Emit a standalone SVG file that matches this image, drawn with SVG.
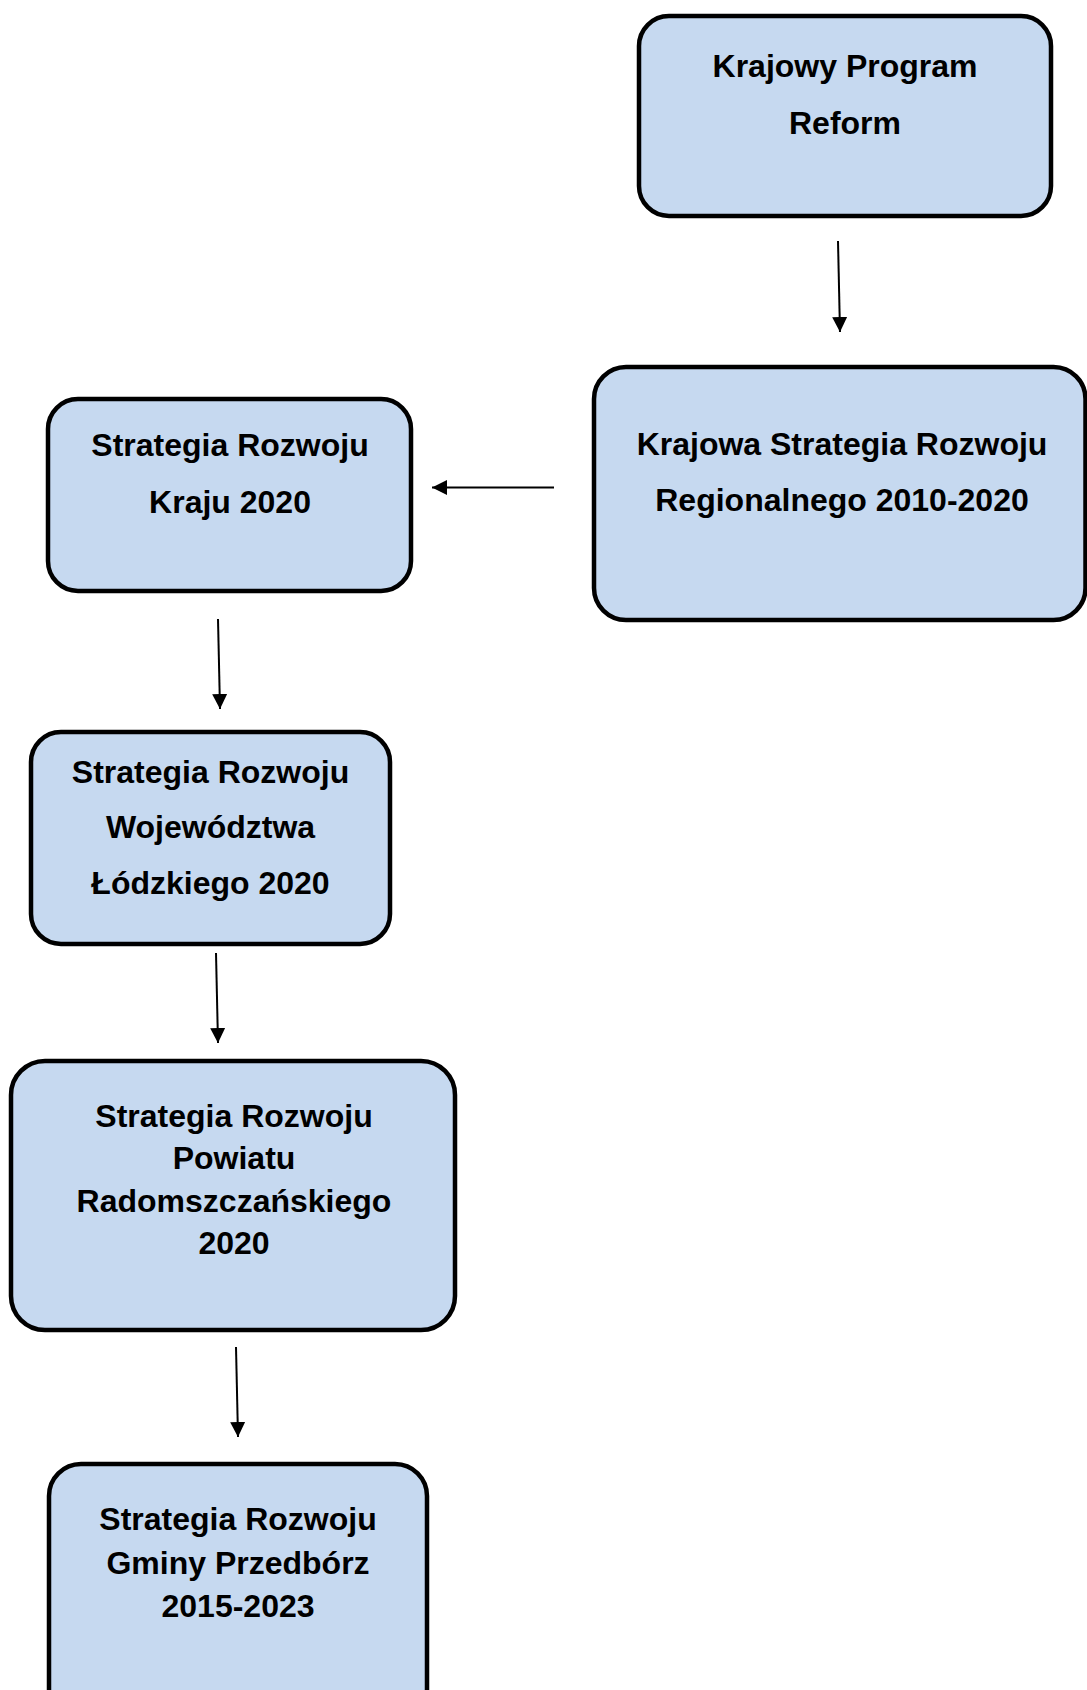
<svg xmlns="http://www.w3.org/2000/svg" width="1087" height="1690" viewBox="0 0 1087 1690">
<style>
  .box { fill: #c6d9f0; stroke: #000; stroke-width: 4.5; }
  .lbl { font-family: "Liberation Sans", Arial, sans-serif; font-weight: bold; font-size: 32px; fill: #000; text-anchor: middle; }
  .conn { stroke: #000; stroke-width: 2; fill: none; marker-end: url(#arr); }
</style>
<defs>
  <marker id="arr" markerUnits="userSpaceOnUse" markerWidth="16" markerHeight="16" refX="15" refY="7.5" orient="auto">
    <path d="M0,0 L15,7.5 L0,15 z" fill="#000"/>
  </marker>
</defs>
<rect width="1087" height="1690" fill="#fff"/>
<g id="n1">
  <rect class="box" x="639" y="16" width="412" height="200" rx="30" ry="30"/>
  <text class="lbl" x="845" y="77">Krajowy Program</text>
  <text class="lbl" x="845" y="134">Reform</text>
</g>
<g id="n2">
  <rect class="box" x="594" y="367" width="491.5" height="253" rx="32" ry="32"/>
  <text class="lbl" x="842" y="455">Krajowa Strategia Rozwoju</text>
  <text class="lbl" x="842" y="511">Regionalnego 2010-2020</text>
</g>
<g id="n3">
  <rect class="box" x="48" y="399" width="363" height="192" rx="30" ry="30"/>
  <text class="lbl" x="230" y="456">Strategia Rozwoju</text>
  <text class="lbl" x="230" y="513">Kraju 2020</text>
</g>
<g id="n4">
  <rect class="box" x="31" y="732" width="359" height="212" rx="30" ry="30"/>
  <text class="lbl" x="210.5" y="783">Strategia Rozwoju</text>
  <text class="lbl" x="210.5" y="838">Województwa</text>
  <text class="lbl" x="210.5" y="894">Łódzkiego 2020</text>
</g>
<g id="n5">
  <rect class="box" x="11" y="1061" width="444" height="269" rx="34" ry="34"/>
  <text class="lbl" x="234" y="1127">Strategia Rozwoju</text>
  <text class="lbl" x="234" y="1169">Powiatu</text>
  <text class="lbl" x="234" y="1212">Radomszczańskiego</text>
  <text class="lbl" x="234" y="1254">2020</text>
</g>
<g id="n6">
  <rect class="box" x="49" y="1464" width="378" height="260" rx="32" ry="32"/>
  <text class="lbl" x="238" y="1530">Strategia Rozwoju</text>
  <text class="lbl" x="238" y="1574">Gminy Przedbórz</text>
  <text class="lbl" x="238" y="1617">2015-2023</text>
</g>
<g id="connectors">
  <line class="conn" x1="838" y1="241" x2="840" y2="332"/>
  <line class="conn" x1="554" y1="487.5" x2="432" y2="487.5"/>
  <line class="conn" x1="218" y1="619" x2="220" y2="709"/>
  <line class="conn" x1="216" y1="953" x2="218" y2="1043"/>
  <line class="conn" x1="236" y1="1347" x2="238" y2="1437"/>
</g>
</svg>
